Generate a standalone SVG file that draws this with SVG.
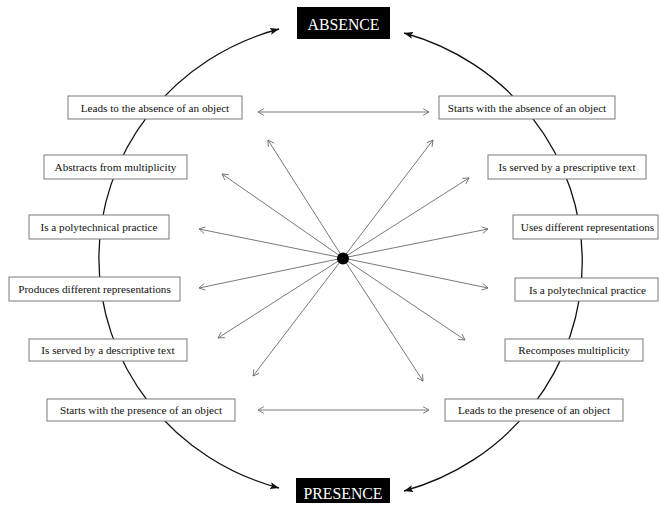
<svg xmlns="http://www.w3.org/2000/svg" width="659" height="507" viewBox="0 0 659 507">
<style>
.box rect{fill:#fff;stroke:#7a7a7a;stroke-width:1}
.box text{font-family:"Liberation Serif","Times New Roman",serif;font-size:11.2px;fill:#111;text-anchor:middle}
.title rect{fill:#000}
.title text{font-family:"Liberation Serif","Times New Roman",serif;font-size:15.8px;fill:#fff;text-anchor:middle}
.arc{fill:none;stroke:#111;stroke-width:1.3;marker-start:url(#solid);marker-end:url(#solid)}
.ray{fill:none;stroke:#6a6a6a;stroke-width:0.9;marker-end:url(#open)}
.dbl{fill:none;stroke:#6a6a6a;stroke-width:0.9;marker-start:url(#open);marker-end:url(#open)}
</style>
<defs>
<marker id="solid" viewBox="0 0 10 10" refX="10" refY="5" markerWidth="9" markerHeight="7" markerUnits="userSpaceOnUse" orient="auto-start-reverse" preserveAspectRatio="none">
<path d="M0,0 L10,5 L0,10 L2,5 z" fill="#111"/>
</marker>
<marker id="open" viewBox="0 0 10 10" refX="9.5" refY="5" markerWidth="7" markerHeight="8" markerUnits="userSpaceOnUse" orient="auto-start-reverse" preserveAspectRatio="none">
<path d="M1,0.8 L9.5,5 L1,9.2" fill="none" stroke="#6a6a6a" stroke-width="1.1"/>
</marker>
</defs>
<rect width="659" height="507" fill="#fff"/>
<g id="connectors">
<path class="arc" d="M279,29 A245,238 0 0 0 279,488"/>
<path class="arc" d="M404,33 A245,238 0 0 1 404,491"/>
<line class="dbl" x1="258" y1="112" x2="429" y2="112"/>
<line class="dbl" x1="258" y1="410" x2="429" y2="410"/>
<line class="ray" x1="343" y1="258" x2="268" y2="140"/>
<line class="ray" x1="343" y1="258" x2="222" y2="174"/>
<line class="ray" x1="343" y1="258" x2="199" y2="229"/>
<line class="ray" x1="343" y1="258" x2="199" y2="288"/>
<line class="ray" x1="343" y1="258" x2="218" y2="338"/>
<line class="ray" x1="343" y1="258" x2="253" y2="376"/>
<line class="ray" x1="343" y1="258" x2="433" y2="140"/>
<line class="ray" x1="343" y1="258" x2="469" y2="178"/>
<line class="ray" x1="343" y1="258" x2="488" y2="229"/>
<line class="ray" x1="343" y1="258" x2="488" y2="288"/>
<line class="ray" x1="343" y1="258" x2="465" y2="340"/>
<line class="ray" x1="343" y1="258" x2="423" y2="381"/>
</g>
<g id="center"><circle cx="343" cy="258.5" r="6" fill="#000"/></g>
<g id="absence" class="title"><rect x="297" y="7" width="93" height="32"/><text x="343.5" y="29.5">ABSENCE</text></g>
<g id="presence" class="title"><rect x="296" y="478" width="94" height="25"/><text x="343" y="499">PRESENCE</text></g>
<g id="l1" class="box"><rect x="68" y="96" width="174" height="23"/><text x="155" y="111.5">Leads to the absence of an object</text></g>
<g id="l2" class="box"><rect x="44" y="155" width="143" height="24"/><text x="115.5" y="171">Abstracts from multiplicity</text></g>
<g id="l3" class="box"><rect x="29" y="215" width="140" height="24"/><text x="99" y="231">Is a polytechnical practice</text></g>
<g id="l4" class="box"><rect x="9" y="277" width="171" height="24"/><text x="94.5" y="293">Produces different representations</text></g>
<g id="l5" class="box"><rect x="29" y="339" width="158" height="22"/><text x="108" y="354">Is served by a descriptive text</text></g>
<g id="l6" class="box"><rect x="47" y="399" width="188" height="22"/><text x="141" y="414">Starts with the presence of an object</text></g>
<g id="r1" class="box"><rect x="439" y="96" width="176" height="23"/><text x="527" y="111.5">Starts with the absence of an object</text></g>
<g id="r2" class="box"><rect x="488" y="155" width="158" height="24"/><text x="567" y="171">Is served by a prescriptive text</text></g>
<g id="r3" class="box"><rect x="513" y="215" width="145" height="24"/><text x="587.5" y="231">Uses different representations</text></g>
<g id="r4" class="box"><rect x="515" y="278" width="143" height="23"/><text x="587.5" y="293.5">Is a polytechnical practice</text></g>
<g id="r5" class="box"><rect x="505" y="339" width="138" height="22"/><text x="574" y="354">Recomposes multiplicity</text></g>
<g id="r6" class="box"><rect x="445" y="399" width="178" height="22"/><text x="534" y="414">Leads to the presence of an object</text></g>
</svg>
